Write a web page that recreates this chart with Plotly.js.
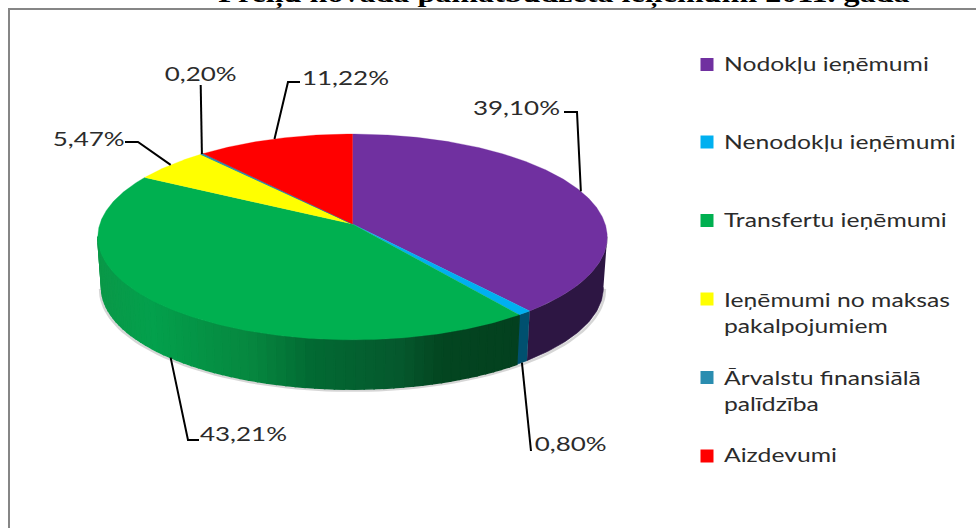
<!DOCTYPE html>
<html>
<head>
<meta charset="utf-8">
<script src="https://cdn.plot.ly/plotly-3.0.1.min.js"></script>
<style>
html,body{margin:0;padding:0;background:#fff;overflow:hidden}
#c{width:976px;height:528px}
/* the reference's text is stretched sideways */
.annotation[data-index="0"] text,.annotation[data-index="1"] text,.annotation[data-index="2"] text,
.annotation[data-index="3"] text,.annotation[data-index="4"] text,.annotation[data-index="5"] text{
  transform-box:fill-box;transform-origin:left center;transform:scaleX(1.235)}
.annotation[data-index="6"] text,.annotation[data-index="7"] text,.annotation[data-index="8"] text,
.annotation[data-index="9"] text,.annotation[data-index="10"] text,.annotation[data-index="11"] text{
  transform-box:fill-box;transform-origin:center;transform:scaleX(1.3)}
.annotation[data-index="12"] text{transform-box:fill-box;transform-origin:center;transform:scaleX(1.235)}
</style>
</head>
<body>
<div id="c"></div>
<script>
// ---- data ----
const categories = ["Nodokļu ieņēmumi","Nenodokļu ieņēmumi","Transfertu ieņēmumi","Ieņēmumi no maksas<br>pakalpojumiem","Ārvalstu finansiālā<br>palīdzība","Aizdevumi"];
const values = [39.10, 0.80, 43.21, 5.47, 0.20, 11.22];
const topColors = ["#7030a0","#00b0f0","#00b050","#ffff00","#2a8db0","#ff0000"];
const chartTitle = "Preiļu novada pamatbudžeta ieņēmumi 2011. gadā";

// ---- layout constants (perspective projection of the pie disc) ----
const cx = 352.5, cy = 224, R = 252.7, A = 101.3, K = 0.126, DEPTH = 51, BOT = 0.985;
const legendY = [64.5, 142, 220.5, 299, 377.5, 456];
const legendTextY = [63, 141, 219, 312, 390, 454];
const labelPos = [[516.5,107],[570,443],[243,433],[88,138],[200,73],[345,77]];
const leaderVia = [[[577,112],[564,112]],[[531,451]],[[188,440],[199,440]],[[138,142],[125,142]],[[200.7,85]],[[288,82],[300,82]]];
const leaderOnBase = [false,true,true,false,false,false];
// side-wall shade of the green slice, by horizontal position
const greenStops = [[97,[10,152,72]],[150,[3,160,76]],[250,[6,135,63]],[310,[2,106,51]],[400,[5,88,45]],[440,[3,70,32]],[520,[3,64,31]]];
const sideColors = {0:"#2d1643",1:"#00506f"};

function proj(deg, base){
  const t = deg*Math.PI/180, w = 1 + K*Math.cos(t);
  const X = R*Math.sin(t)/w, Y = -A*Math.cos(t)/w;
  return base ? [cx+BOT*X, cy+BOT*Y+DEPTH] : [cx+X, cy+Y];
}
function greenAt(x){
  for(let i=1;i<greenStops.length;i++){
    const a=greenStops[i-1], b=greenStops[i];
    if(x<=b[0]){
      const f=Math.max(0,(x-a[0])/(b[0]-a[0]));
      return 'rgb('+a[1].map((c,j)=>Math.round(c+(b[1][j]-c)*f)).join(',')+')';
    }
  }
  return 'rgb('+greenStops[greenStops.length-1][1].join(',')+')';
}
const total = values.reduce((a,b)=>a+b,0);
let acc = 0;
const slices = values.map(v=>{const s={a:acc/total*360,b:(acc+v)/total*360};s.m=(s.a+s.b)/2;acc+=v;return s;});

const traces = [];
function poly(xs,ys,color,w){
  traces.push({x:xs,y:ys,mode:'lines',fill:'toself',fillcolor:color,line:{color:color,width:w},hoverinfo:'skip',showlegend:false});
}
// soft shadow below the rim
(function(){
  const xs=[],ys=[];
  for(let d=97;d<=263;d+=2){const p=proj(d,true);xs.push(p[0]+(d>180?-1.5:1.5));ys.push(p[1]+1.5);}
  traces.push({x:xs,y:ys,mode:'lines',line:{color:'rgba(90,90,90,0.25)',width:2.5},hoverinfo:'skip',showlegend:false});
})();
// side wall
[0,1,2].forEach(i=>{
  const s=slices[i];
  const from = i===0 ? 97 : s.a, to = i===2 ? 263 : s.b;
  if(i===2){
    const step = 2;
    for(let d=from;d<to;d+=step){
      const e=Math.min(d+step,to);
      const p=[proj(d,false),proj(e,false),proj(e,true),proj(d,true)];
      poly(p.map(q=>q[0]).concat(p[0][0]),p.map(q=>q[1]).concat(p[0][1]),greenAt((p[0][0]+p[1][0])/2),1.5);
    }
  } else {
    const xs=[],ys=[];
    for(let d=from;d<=to;d+=1){const p=proj(d,false);xs.push(p[0]);ys.push(p[1]);}
    const pe=proj(to,false);xs.push(pe[0]);ys.push(pe[1]);
    const pb=proj(to,true);xs.push(pb[0]);ys.push(pb[1]);
    for(let d=to;d>=from;d-=1){const p=proj(d,true);xs.push(p[0]);ys.push(p[1]);}
    const pf=proj(from,true);xs.push(pf[0]);ys.push(pf[1]);
    poly(xs,ys,sideColors[i],0.6);
  }
});
// top surface
slices.forEach((s,i)=>{
  const xs=[cx],ys=[cy];
  for(let d=s.a;d<s.b;d+=0.5){const p=proj(d,false);xs.push(p[0]);ys.push(p[1]);}
  const p=proj(s.b,false);xs.push(p[0]);ys.push(p[1]);
  xs.push(cx);ys.push(cy);
  traces.push({x:xs,y:ys,mode:'lines',fill:'toself',fillcolor:topColors[i],line:{color:topColors[i],width:i===4?1:0.3},
    name:categories[i].replace('<br>',' '),text:values[i].toFixed(2)+'%',hoverinfo:'name+text',showlegend:false});
});
// leaders
slices.forEach((s,i)=>{
  const p=proj(s.m,leaderOnBase[i]);
  const pts=[p].concat(leaderVia[i]);
  traces.push({x:pts.map(q=>q[0]),y:pts.map(q=>q[1]),mode:'lines',line:{color:'#000',width:2},hoverinfo:'skip',showlegend:false});
});
// legend swatches
traces.push({x:categories.map(()=>707),y:legendY,mode:'markers',marker:{symbol:'square',size:13,color:topColors},hoverinfo:'skip',showlegend:false});

const LBL = "Lato, 'Open Sans', sans-serif";
const annotations = [];
categories.forEach((c,i)=>annotations.push({x:722,y:legendTextY[i],xref:'x',yref:'y',text:c,align:'left',xanchor:'left',yanchor:'middle',showarrow:false,
  font:{family:LBL,size:20,color:'#2b2b2b'}}));
values.forEach((v,i)=>annotations.push({x:labelPos[i][0],y:labelPos[i][1],xref:'x',yref:'y',text:v.toFixed(2).replace('.',',')+'%',xanchor:'center',yanchor:'middle',showarrow:false,
  font:{family:LBL,size:20,color:'#2b2b2b'}}));
annotations.push({x:564,y:0,yshift:6,xref:'x',yref:'y',text:'<b>'+chartTitle+'</b>',xanchor:'center',yanchor:'middle',showarrow:false,
  font:{family:"'Liberation Serif', serif",size:26,color:'#000'}});

const layout = {
  width:976,height:528,margin:{l:0,r:0,t:0,b:0},paper_bgcolor:'#fff',plot_bgcolor:'#fff',showlegend:false,
  xaxis:{range:[0,976],visible:false,fixedrange:true},
  yaxis:{range:[528,0],visible:false,fixedrange:true},
  annotations:annotations,
  shapes:[{type:'line',xref:'x',yref:'y',x0:9,x1:9,y0:9,y1:528,line:{color:'#868686',width:2},layer:'below'},
          {type:'line',xref:'x',yref:'y',x0:8,x1:976,y0:9,y1:9,line:{color:'#868686',width:2},layer:'below'}]
};
Plotly.newPlot('c',traces,layout,{displayModeBar:false,staticPlot:true});
</script>
</body>
</html>
